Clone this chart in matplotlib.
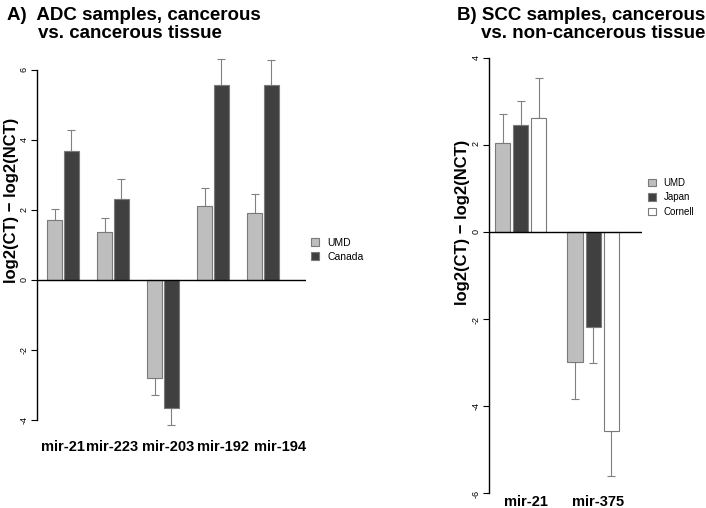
import numpy as np
import matplotlib
matplotlib.use("Agg")
import matplotlib.pyplot as plt

plt.rcParams['font.family'] = ['Liberation Sans', 'DejaVu Sans']

# panel A: ADC samples
adc_mirs = ['mir-21', 'mir-223', 'mir-203', 'mir-192', 'mir-194']
adc_umd = [1.71, 1.37, -2.80, 2.11, 1.91]
adc_umd_err = [0.32, 0.39, 0.49, 0.52, 0.54]
adc_canada = [3.69, 2.31, -3.66, 5.57, 5.58]
adc_canada_err = [0.59, 0.57, 0.48, 0.74, 0.70]

# panel B: SCC samples
scc_mirs = ['mir-21', 'mir-375']
scc_umd = [2.05, -2.99]
scc_umd_err = [0.66, 0.85]
scc_japan = [2.46, -2.18]
scc_japan_err = [0.55, 0.82]
scc_cornell = [2.63, -4.57]
scc_cornell_err = [0.90, 1.03]

c_umd = '#bebebe'
c_dark = '#404040'
c_white = '#ffffff'
edge = '#7a7a7a'
errc = '#808080'

W, H = 706, 508
fig = plt.figure(figsize=(7.06, 5.08), dpi=100)


def px_axes(x0, x1, y_top, y_bot):
    return fig.add_axes([x0 / W, 1 - y_bot / H, (x1 - x0) / W, (y_bot - y_top) / H])


def one_sided(vals, errs):
    vals = np.asarray(vals)
    errs = np.asarray(errs)
    lo = np.where(vals < 0, errs, 0)
    hi = np.where(vals >= 0, errs, 0)
    return [lo, hi]


def style_axes(ax, lo, hi, ticks):
    for s in ['top', 'right', 'bottom']:
        ax.spines[s].set_visible(False)
    ax.spines['left'].set_bounds(lo, hi)
    ax.spines['left'].set_linewidth(1)
    ax.set_yticks(ticks)
    ax.set_yticklabels([str(t) for t in ticks])
    ax.tick_params(axis='y', labelsize=6.5, labelrotation=90, length=4, pad=2)
    ax.set_xticks([])
    ax.axhline(0, color='black', lw=1, zorder=3)


# ---- panel A
axA = px_axes(37, 306, 56, 430.5)
gx = np.arange(len(adc_mirs)) * 3.0
bw = 0.9
bA1 = axA.bar(gx - 0.5, adc_umd, bw, color=c_umd, edgecolor=edge, lw=0.8,
              label='UMD', zorder=2)
bA2 = axA.bar(gx + 0.5, adc_canada, bw, color=c_dark, edgecolor=edge, lw=0.8,
              label='Canada', zorder=2)
axA.errorbar(gx - 0.5, adc_umd, yerr=one_sided(adc_umd, adc_umd_err), fmt='none',
             ecolor=errc, elinewidth=0.8, capsize=3, capthick=0.8, zorder=1)
axA.errorbar(gx + 0.5, adc_canada, yerr=one_sided(adc_canada, adc_canada_err),
             fmt='none', ecolor=errc, elinewidth=0.8, capsize=3, capthick=0.8, zorder=1)
axA.set_xlim(-1.56, 14.58)
axA.set_ylim(-4.3, 6.4)
style_axes(axA, -4, 6, [-4, -2, 0, 2, 4, 6])
# labels are spread a little wider than the bar groups
label_shift = [0.0, -0.05, 0.33, 0.6, 1.0]
for x, dx, m in zip(gx, label_shift, adc_mirs):
    axA.text(x + dx, -0.044, m, transform=axA.get_xaxis_transform(), ha='center',
             va='center', fontsize=10.5, fontweight='bold')
fig.legend(handles=[bA1, bA2], labels=['UMD', 'Canada'], loc='upper left',
           bbox_to_anchor=(311 / W, 1 - 238 / H), frameon=False, fontsize=7.5,
           handlelength=0.8, handleheight=0.8, handletextpad=0.8, labelspacing=0.35,
           borderpad=0, borderaxespad=0)

# ---- panel B
axB = px_axes(489, 642, 49.3, 501.7)
gx2 = np.arange(len(scc_mirs)) * 4.0
bw2 = 0.83
bB1 = axB.bar(gx2 - 1, scc_umd, bw2, color=c_umd, edgecolor=edge, lw=0.8,
              label='UMD', zorder=2)
bB2 = axB.bar(gx2, scc_japan, bw2, color=c_dark, edgecolor=edge, lw=0.8,
              label='Japan', zorder=2)
bB3 = axB.bar(gx2 + 1, scc_cornell, bw2, color=c_white, edgecolor=edge, lw=0.8,
              label='Cornell', zorder=2)
for off, v, e in [(-1, scc_umd, scc_umd_err), (0, scc_japan, scc_japan_err),
                  (1, scc_cornell, scc_cornell_err)]:
    axB.errorbar(gx2 + off, v, yerr=one_sided(v, e), fmt='none', ecolor=errc,
                 elinewidth=0.8, capsize=3, capthick=0.8, zorder=1)
axB.set_xlim(-1.75, 6.7)
axB.set_ylim(-6.2, 4.2)
style_axes(axB, -6, 4, [-6, -4, -2, 0, 2, 4])
for x, m in zip(gx2, scc_mirs):
    axB.text(x + 0.3, -0.001, m, transform=axB.get_xaxis_transform(), ha='center',
             va='center', fontsize=10.5, fontweight='bold')
fig.legend(handles=[bB1, bB2, bB3], labels=['UMD', 'Japan', 'Cornell'],
           loc='upper left', bbox_to_anchor=(648 / W, 1 - 178 / H), frameon=False,
           fontsize=7, handlelength=0.8, handleheight=0.8, handletextpad=0.8,
           labelspacing=0.45, borderpad=0, borderaxespad=0)

# ---- titles and axis labels
fig.text(7 / W, 1 - 16 / H, 'A)  ADC samples, cancerous', fontsize=13.5,
         fontweight='bold', va='center', ha='left')
fig.text(38 / W, 1 - 34 / H, 'vs. cancerous tissue', fontsize=13.5,
         fontweight='bold', va='center', ha='left')
fig.text(457 / W, 1 - 16 / H, 'B) SCC samples, cancerous', fontsize=13.5,
         fontweight='bold', va='center', ha='left')
fig.text(481 / W, 1 - 34 / H, 'vs. non-cancerous tissue', fontsize=13.5,
         fontweight='bold', va='center', ha='left')
fig.text(12 / W, 1 - 200 / H, 'log2(CT) \u2212 log2(NCT)', rotation=90,
         fontsize=12, fontweight='bold', va='center', ha='center')
fig.text(462 / W, 1 - 222 / H, 'log2(CT) \u2212 log2(NCT)', rotation=90,
         fontsize=12, fontweight='bold', va='center', ha='center')

fig.savefig('out.png', dpi=100)
